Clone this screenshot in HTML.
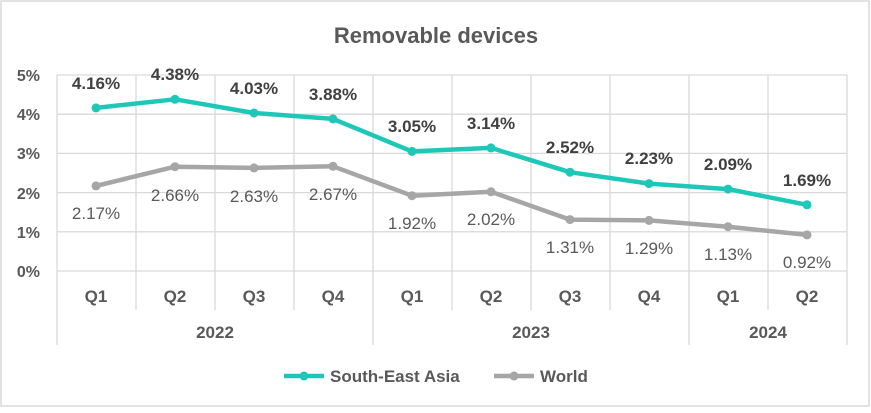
<!DOCTYPE html>
<html><head><style>
body{margin:0;background:#fff}
svg text{font-family:"Liberation Sans",sans-serif}
</style></head><body>
<svg width="871" height="408" viewBox="0 0 871 408" xmlns="http://www.w3.org/2000/svg">
<rect x="1" y="1" width="868" height="405" fill="#fff" stroke="#d9d9d9" stroke-width="1.5"/>
<text x="436" y="43" font-size="22" font-weight="bold" fill="#595959" text-anchor="middle">Removable devices</text>
<g stroke="#d9d9d9" stroke-width="1.3">
<line x1="57" y1="75" x2="847" y2="75"/>
<line x1="57" y1="114.2" x2="847" y2="114.2"/>
<line x1="57" y1="153.4" x2="847" y2="153.4"/>
<line x1="57" y1="192.6" x2="847" y2="192.6"/>
<line x1="57" y1="231.8" x2="847" y2="231.8"/>
<line x1="57" y1="271" x2="847" y2="271"/>
<line x1="57" y1="75" x2="57" y2="345"/>
<line x1="136" y1="75" x2="136" y2="310"/>
<line x1="215" y1="75" x2="215" y2="310"/>
<line x1="294" y1="75" x2="294" y2="310"/>
<line x1="373" y1="75" x2="373" y2="345"/>
<line x1="452" y1="75" x2="452" y2="310"/>
<line x1="531" y1="75" x2="531" y2="310"/>
<line x1="610" y1="75" x2="610" y2="310"/>
<line x1="689" y1="75" x2="689" y2="345"/>
<line x1="768" y1="75" x2="768" y2="310"/>
<line x1="847" y1="75" x2="847" y2="345"/>
</g>
<g font-size="16" font-weight="bold" fill="#595959" text-anchor="end">
<text x="40" y="81">5%</text><text x="40" y="120">4%</text><text x="40" y="159">3%</text>
<text x="40" y="199">2%</text><text x="40" y="238">1%</text><text x="40" y="277">0%</text>
</g>
<g font-size="17" font-weight="bold" fill="#595959" text-anchor="middle">
<text x="96" y="302">Q1</text><text x="175" y="302">Q2</text><text x="254" y="302">Q3</text><text x="333" y="302">Q4</text>
<text x="412" y="302">Q1</text><text x="491" y="302">Q2</text><text x="570" y="302">Q3</text><text x="649" y="302">Q4</text>
<text x="728" y="302">Q1</text><text x="807" y="302">Q2</text>
<text x="215" y="338">2022</text><text x="531" y="338">2023</text><text x="768" y="338">2024</text>
</g>
<polyline fill="none" stroke="#a6a6a6" stroke-width="4.5" stroke-linejoin="round"
points="96,185.9 175,166.7 254,167.9 333,166.3 412,195.7 491,191.8 570,219.6 649,220.4 728,226.7 807,234.9"/>
<g fill="#a6a6a6">
<circle cx="96" cy="185.9" r="4.5"/><circle cx="175" cy="166.7" r="4.5"/><circle cx="254" cy="167.9" r="4.5"/><circle cx="333" cy="166.3" r="4.5"/><circle cx="412" cy="195.7" r="4.5"/><circle cx="491" cy="191.8" r="4.5"/><circle cx="570" cy="219.6" r="4.5"/><circle cx="649" cy="220.4" r="4.5"/><circle cx="728" cy="226.7" r="4.5"/><circle cx="807" cy="234.9" r="4.5"/>
</g>
<polyline fill="none" stroke="#1ec8b9" stroke-width="4.5" stroke-linejoin="round"
points="96,107.9 175,99.3 254,113 333,118.9 412,151.4 491,147.9 570,172.2 649,183.6 728,189.1 807,204.8"/>
<g fill="#1ec8b9">
<circle cx="96" cy="107.9" r="4.5"/><circle cx="175" cy="99.3" r="4.5"/><circle cx="254" cy="113" r="4.5"/><circle cx="333" cy="118.9" r="4.5"/><circle cx="412" cy="151.4" r="4.5"/><circle cx="491" cy="147.9" r="4.5"/><circle cx="570" cy="172.2" r="4.5"/><circle cx="649" cy="183.6" r="4.5"/><circle cx="728" cy="189.1" r="4.5"/><circle cx="807" cy="204.8" r="4.5"/>
</g>
<g font-size="17" font-weight="bold" fill="#404040" text-anchor="middle">
<text x="96" y="89">4.16%</text><text x="175" y="80">4.38%</text><text x="254" y="94">4.03%</text><text x="333" y="100">3.88%</text>
<text x="412" y="132">3.05%</text><text x="491" y="129">3.14%</text><text x="570" y="153">2.52%</text><text x="649" y="164">2.23%</text>
<text x="728" y="170">2.09%</text><text x="807" y="186">1.69%</text>
</g>
<g font-size="17" fill="#595959" text-anchor="middle">
<text x="96" y="219">2.17%</text><text x="175" y="201">2.66%</text><text x="254" y="202">2.63%</text><text x="333" y="200">2.67%</text>
<text x="412" y="229">1.92%</text><text x="491" y="225">2.02%</text><text x="570" y="253">1.31%</text><text x="649" y="254">1.29%</text>
<text x="728" y="260">1.13%</text><text x="807" y="268">0.92%</text>
</g>
<line x1="284" y1="376" x2="324" y2="376" stroke="#1ec8b9" stroke-width="4.5"/>
<circle cx="304" cy="376" r="4.5" fill="#1ec8b9"/>
<text x="330" y="382" font-size="17" font-weight="bold" fill="#595959">South-East Asia</text>
<line x1="494" y1="376" x2="534" y2="376" stroke="#a6a6a6" stroke-width="4.5"/>
<circle cx="514" cy="376" r="4.5" fill="#a6a6a6"/>
<text x="540" y="382" font-size="17" font-weight="bold" fill="#595959">World</text>
</svg>
</body></html>
